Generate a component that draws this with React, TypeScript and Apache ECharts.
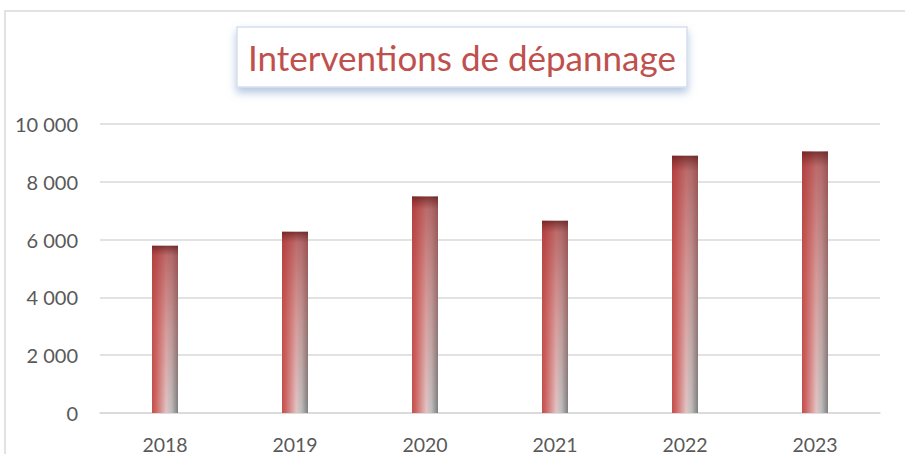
import React, { useEffect, useRef } from "react";
import * as echarts from "echarts";

const categories = ["2018", "2019", "2020", "2021", "2022", "2023"];
const interventions = [5790, 6270, 7490, 6650, 8900, 9050];
const yTicks = { min: 0, max: 10000, interval: 2000 };
const titleText = "Interventions de dépannage";

function fmt(v: number): string {
  return String(v).replace(/\B(?=(\d{3})+(?!\d))/g, " ");
}

export default function App() {
  const ref = useRef<HTMLDivElement>(null);
  useEffect(() => {
    if (!ref.current) return;
    const chart = echarts.init(ref.current, null, { renderer: "svg" });
    const baseColor = new echarts.graphic.LinearGradient(0, 0, 1, 0, [
      { offset: 0, color: "#c0504d" },
      { offset: 0.12, color: "#cc5f5c" },
      { offset: 0.55, color: "#e2c4c4" },
      { offset: 0.75, color: "#bdbdbd" },
      { offset: 1, color: "#7f7f7f" },
    ]);
    const overlay = new echarts.graphic.LinearGradient(0, 0, 0, 1, [
      { offset: 0, color: "rgba(110,35,35,0.9)" },
      { offset: 0.06, color: "rgba(170,60,60,0.65)" },
      { offset: 0.5, color: "rgba(192,80,77,0.35)" },
      { offset: 1, color: "rgba(192,80,77,0)" },
    ]);
    chart.setOption({
      animation: false,
      title: {
        text: titleText,
        left: 237,
        top: 27,
        padding: [11, 11, 11, 11],
        backgroundColor: "#ffffff",
        borderColor: "#d6e0ef",
        borderWidth: 1.5,
        shadowColor: "rgba(120,150,200,0.55)",
        shadowBlur: 8,
        shadowOffsetY: 5,
        textStyle: {
          color: "#c0504d",
          fontSize: 35,
          lineHeight: 38,
          fontWeight: "normal",
          fontFamily: "Lato",
        },
      },
      graphic: [
        {
          type: "rect",
          shape: { x: 5, y: 11, width: 1000, height: 600 },
          style: { fill: "none", stroke: "#d9d9d9", lineWidth: 1.5 },
          silent: true,
          z: -1,
        },
      ],
      grid: { left: 100, right: 25, top: 124, bottom: 41, containLabel: false },
      xAxis: {
        type: "category",
        data: categories,
        axisLine: { lineStyle: { color: "#d9d9d9", width: 1.5 } },
        axisTick: { show: false },
        axisLabel: { color: "#595959", fontSize: 19.5, fontFamily: "Lato", margin: 21 },
      },
      yAxis: {
        type: "value",
        min: yTicks.min,
        max: yTicks.max,
        interval: yTicks.interval,
        axisLine: { show: false },
        axisTick: { show: false },
        splitLine: { lineStyle: { color: "#d9d9d9", width: 1.5 } },
        axisLabel: {
          color: "#595959",
          fontSize: 20,
          fontFamily: "Lato",
          margin: 22,
          formatter: (v: number) => fmt(v),
        },
      },
      series: [
        {
          type: "bar",
          data: interventions,
          barWidth: 26,
          itemStyle: { color: baseColor },
        },
        {
          type: "bar",
          data: interventions,
          barWidth: 26,
          barGap: "-100%",
          itemStyle: { color: overlay },
        },
      ],
    });
    return () => chart.dispose();
  }, []);
  return (
    <div
      ref={ref}
      style={{ position: "absolute", left: 0, top: 0, width: 905, height: 454, background: "#ffffff" }}
    />
  );
}
